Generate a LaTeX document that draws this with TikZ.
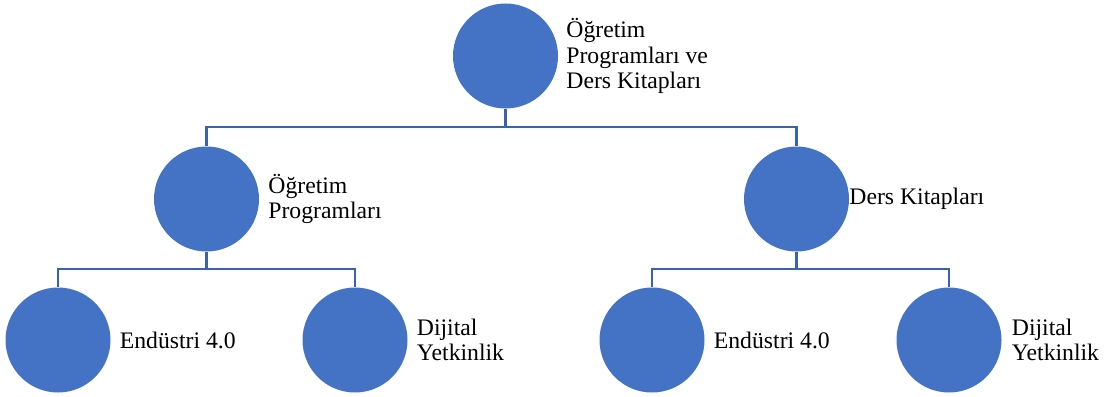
\documentclass[tikz,border=0pt]{standalone}
\usepackage{fontspec}
\setmainfont{Liberation Serif}
\usetikzlibrary{positioning}
\definecolor{dotblue}{HTML}{4472C4}
\definecolor{linkblue}{HTML}{3A63AE}

\begin{document}
\begin{tikzpicture}[x=1pt, y=-1pt, node distance=9pt]
  \tikzstyle{dot} = [circle, minimum size=105pt, inner sep=0pt, fill=dotblue]
  \tikzstyle{txt} = [inner sep=0pt, align=left, font=\fontsize{23.7}{25.5}\selectfont]
  \tikzstyle{link} = [draw=linkblue, line width=2.2pt]

  \useasboundingbox (0,0) rectangle (1110,396);

  \node (top) [dot] at (505.5,56) {};
  \node (midL) [dot] at (206.5,199) {};
  \node (midR) [dot] at (796.5,199) {};
  \node (botA) [dot] at (58,340) {};
  \node (botB) [dot] at (355,340) {};
  \node (botC) [dot] at (652,340) {};
  \node (botD) [dot] at (949,340) {};

  \node (topTxt) [txt, right=8pt of top] {Öğretim\\Programları ve\\Ders Kitapları};
  \node (midLTxt) [txt, right=of midL] {Öğretim\\Programları};
  \node (midRTxt) [txt, right=0pt of midR] {Ders Kitapları};
  \node (botATxt) [txt, right=of botA] {Endüstri 4.0};
  \node (botBTxt) [txt, right=of botB] {Dijital\\Yetkinlik};
  \node (botCTxt) [txt, right=of botC] {Endüstri 4.0};
  \node (botDTxt) [txt, right=10pt of botD] {Dijital\\Yetkinlik};

  % down, across, down
  \draw [link] (top.south) -- ++(0,18) -| (midL.north);
  \draw [link] (top.south) -- ++(0,18) -| (midR.north);
  \draw [link] (midL.south) -- ++(0,17) -| (botA.north);
  \draw [link] (midL.south) -- ++(0,17) -| (botB.north);
  \draw [link] (midR.south) -- ++(0,17) -| (botC.north);
  \draw [link] (midR.south) -- ++(0,17) -| (botD.north);
\end{tikzpicture}
\end{document}
